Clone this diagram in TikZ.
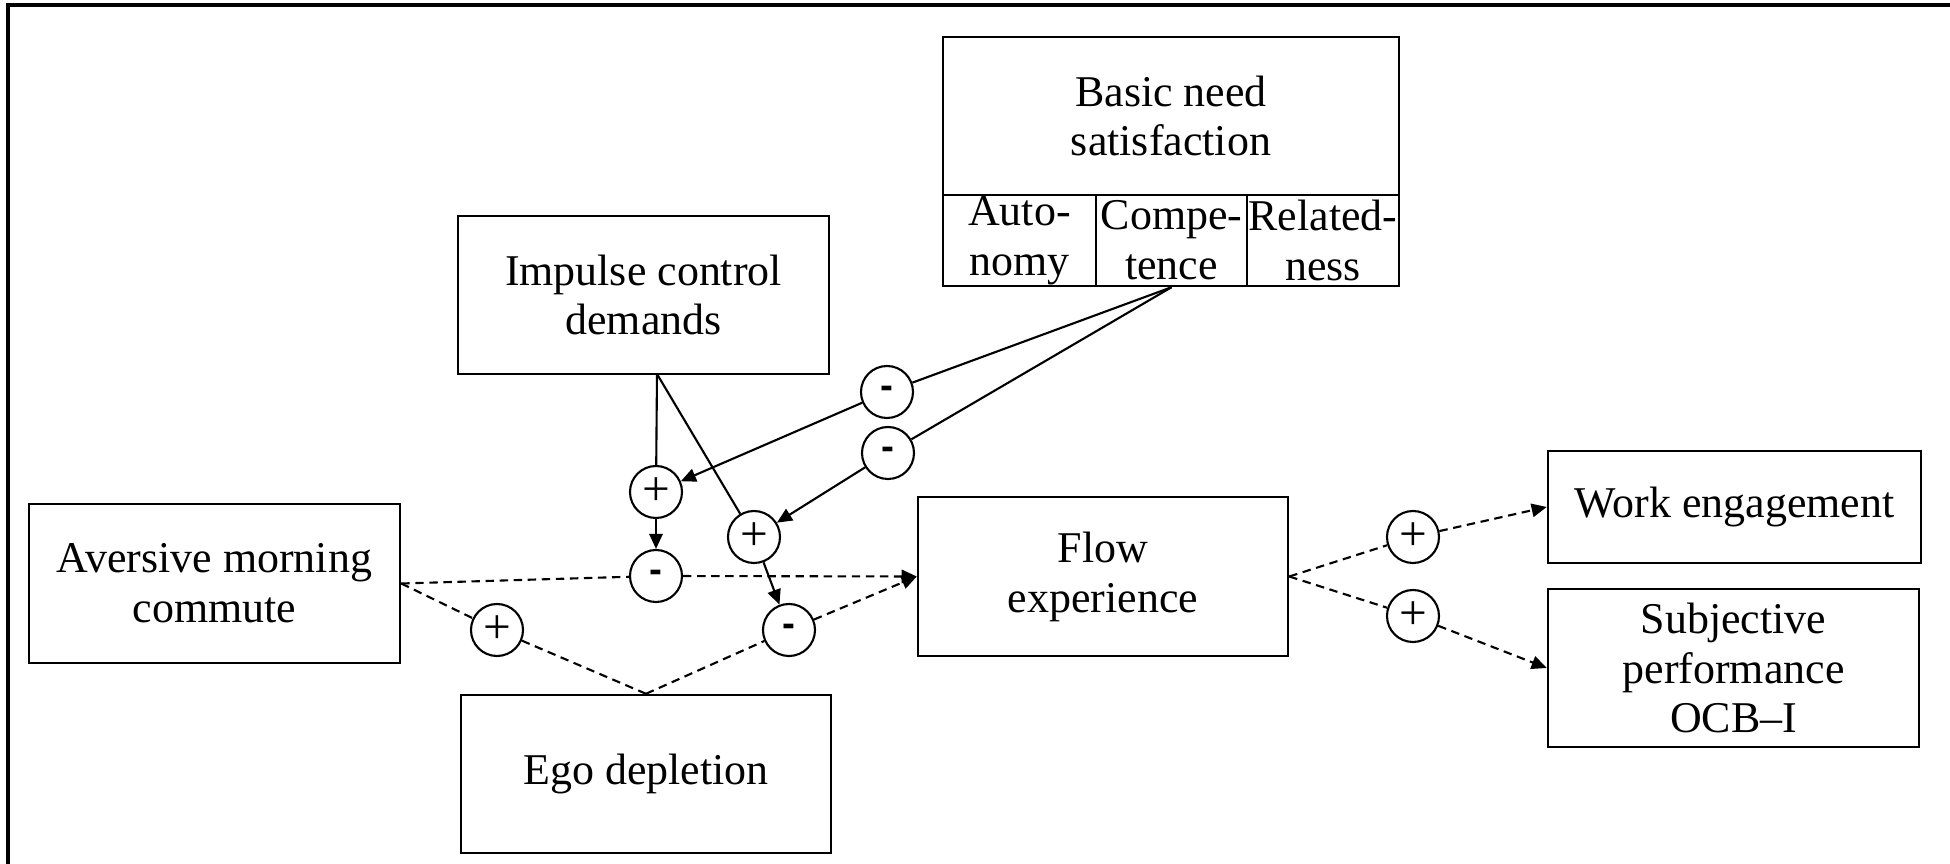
\documentclass[tikz,border=0pt]{standalone}
\usepackage{fontspec}
\setmainfont{Liberation Serif}
\setsansfont{Liberation Sans}
\usetikzlibrary{arrows.meta,positioning}

\begin{document}
\begin{tikzpicture}[>={Triangle[length=4.3pt,width=3.8pt]},line width=0.6pt,
                    font=\fontsize{12.5}{14.2}\selectfont]
        \tikzstyle{box}=[draw,rectangle,line width=0.7pt,align=center,inner sep=2pt]
        \tikzstyle{sign}=[draw,circle,fill=white,minimum size=0.52cm,inner sep=0pt]
        \tikzstyle{link}=[dash pattern=on 2.4pt off 1.6pt]
        \newcommand{\pl}{{\fontsize{14}{14}\selectfont +}}
        \newcommand{\mi}{{\sffamily\bfseries\fontsize{11}{11}\selectfont -}}

        \useasboundingbox (0,0) rectangle (19.5,-8.64);
        \draw[line width=0.9pt] (0.08,-8.64) -- (0.08,-0.05) -- (19.5,-0.05);

        % boxes
        \node[box, minimum width=3.71cm, minimum height=1.59cm] (commute) at (2.145,-5.835) {Aversive morning\\commute};
        \node[box, minimum width=3.71cm, minimum height=1.58cm] (impulse) at (6.435,-2.95)  {Impulse control\\demands};
        \node[box, minimum width=3.70cm, minimum height=1.58cm] (ego)     at (6.46,-7.74)   {Ego depletion};
        \node[box, minimum width=3.70cm, minimum height=1.59cm] (flow)    at (11.03,-5.765) {Flow\\experience};
        \node[box, minimum width=3.73cm, minimum height=1.12cm] (work)    at (17.345,-5.07) {Work engagement};
        \node[box, minimum width=3.71cm, minimum height=1.58cm] (perf)    at (17.335,-6.68) {Subjective\\performance\\OCB--I};

        % basic need box with its three cells
        \node[box, minimum width=4.56cm, minimum height=1.58cm] (basic)   at (11.71,-1.16)  {Basic need\\satisfaction};
        \node[box, minimum width=1.53cm, minimum height=0.91cm, inner sep=0pt] (auto)    at (10.195,-2.405) {Auto-\\nomy};
        \node[box, minimum width=1.51cm, minimum height=0.91cm, inner sep=0pt] (compe)   at (11.715,-2.405) {Compe-\\tence};
        \node[box, minimum width=1.52cm, minimum height=0.91cm, inner sep=0pt] (related) at (13.23,-2.405)  {Related-\\ness};

        % signs
        \node[sign] (mA) at (8.87,-3.92)  {\mi};
        \node[sign] (mB) at (8.88,-4.53)  {\mi};
        \node[sign] (pA) at (6.56,-4.92)  {\pl};
        \node[sign] (pB) at (7.54,-5.37)  {\pl};
        \node[sign] (mC) at (6.56,-5.76)  {\mi};
        \node[sign] (mD) at (7.89,-6.30)  {\mi};
        \node[sign] (pC) at (4.97,-6.30)  {\pl};
        \node[sign] (pD) at (14.13,-5.37) {\pl};
        \node[sign] (pE) at (14.13,-6.16) {\pl};

        \coordinate (ic) at (6.57,-3.74);

        % moderators
        \path (ic) edge (pA)
              (ic) edge (pB)
              (compe.south) edge (mA)
              (compe.south) edge (mB);
        \draw[->] (mA) -- (pA);
        \draw[->] (mB) -- (pB);
        \draw[->] (pA) -- (mC);
        \draw[->] (pB) -- (mD);

        % main paths
        \path[link] (commute.east) edge (mC)
                    (commute.east) edge (pC)
                    (pC) edge (ego.north)
                    (ego.north) edge (mD)
                    (flow.east) edge (pD)
                    (flow.east) edge (pE);
        \draw[link,->] (mC) -- (flow.west);
        \draw[link,->] (mD) -- (flow.west);
        \draw[link,->] (pD) -- (work.west);
        \draw[link,->] (pE) -- (perf.west);
    \end{tikzpicture}
\end{document}
